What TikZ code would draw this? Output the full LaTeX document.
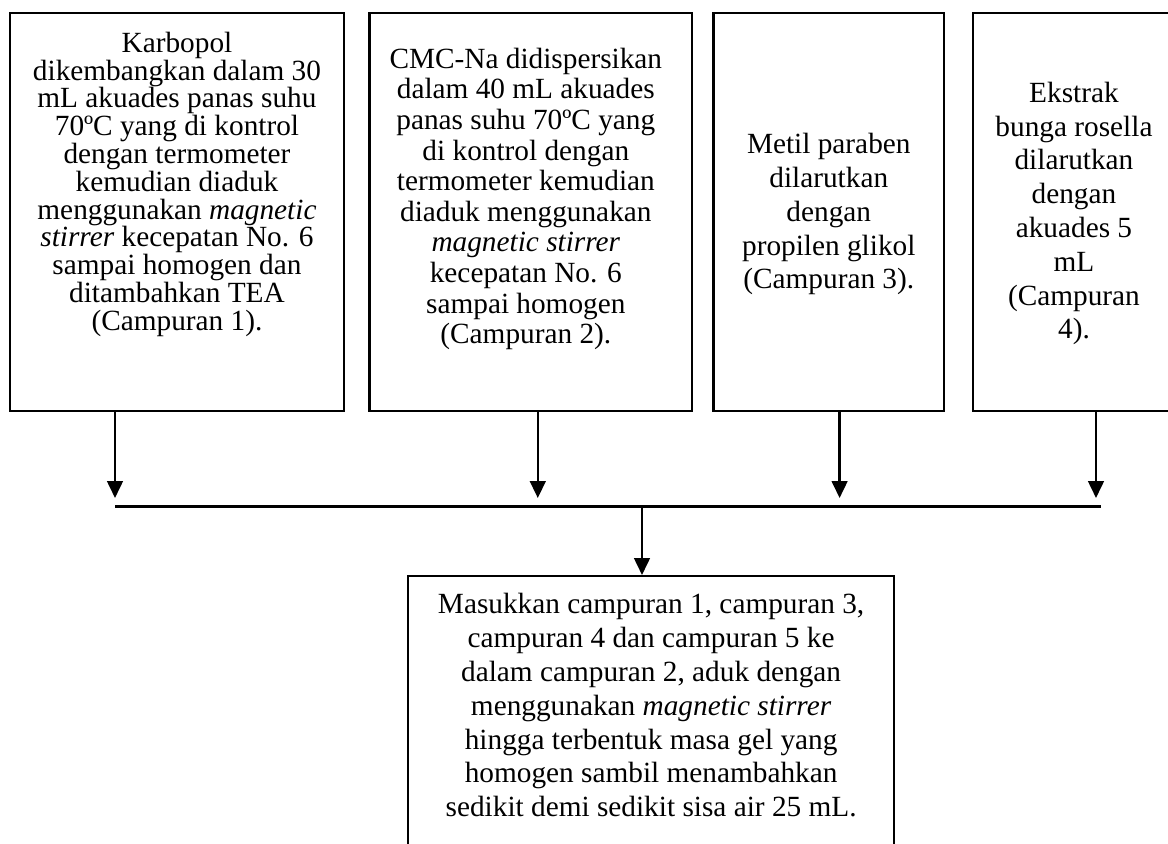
\documentclass[tikz,border=0pt]{standalone}
\usepackage{fontspec}
\setmainfont{Liberation Serif}
\usetikzlibrary{arrows.meta, calc}
\tikzset{
  box/.style={
    rectangle, draw, line width=1.6pt, anchor=north west,
    inner sep=0pt, minimum height=9.95cm
  },
  txt/.style={align=center, inner sep=0pt, anchor=north, text=black},
  tight/.style={font=\fontsize{20.84}{19.77}\selectfont},
  mid/.style={font=\fontsize{20.84}{21.77}\selectfont},
  loose/.style={font=\fontsize{20.84}{24.04}\selectfont},
  arr/.style={-{Triangle[length=0.42cm, width=0.39cm]}, line width=1.6pt},
  bar/.style={line width=1.6pt},
}

\begin{document}
\begin{tikzpicture}

  \useasboundingbox (0,0) rectangle (29.2,-21.1);
  \clip (0,0) rectangle (29.2,-21.1);

  % the four mixtures
  \node[box, minimum width=8.343cm] (karbopol) at (0.225,-0.3) {};
  \node[box, minimum width=8.06cm] (cmc) at (9.2075,-0.3) {};
  \node[box, minimum width=5.7675cm] (metil) at (17.8075,-0.3) {};
  \node[box, minimum width=5.0575cm] (ekstrak) at (24.2925,-0.3) {};

  % final step, runs off the page
  \node[box, minimum width=12.15cm, minimum height=7.5cm] (mix) at (10.175,-14.375) {};

  \node[txt, tight] (karbopoltxt) at ($(karbopol.north)+(0,-0.4925)$)
    {Karbopol\\dikembangkan dalam 30\\mL akuades panas suhu\\70ºC yang di kontrol\\
     dengan termometer\\kemudian diaduk\\menggunakan \textit{magnetic}\\
     \textit{stirrer} kecepatan No. 6\\sampai homogen dan\\ditambahkan TEA\\(Campuran 1).};
  \node[txt, mid] (cmctxt) at ($(cmc.north)+(-0.12,-0.8925)$)
    {CMC-Na didispersikan\\dalam 40 mL akuades\\panas suhu 70ºC yang\\di kontrol dengan\\
     termometer kemudian\\diaduk menggunakan\\\textit{magnetic stirrer}\\
     kecepatan No. 6\\sampai homogen\\(Campuran 2).};
  \node[txt, loose] (metiltxt) at ($(metil.north)+(0,-3.025)$)
    {Metil paraben\\dilarutkan\\dengan\\propilen glikol\\(Campuran 3).};
  \node[txt, loose] (ekstraktxt) at ($(ekstrak.north)+(0,-1.7425)$)
    {Ekstrak\\bunga rosella\\dilarutkan\\dengan\\akuades 5\\mL\\(Campuran\\4).};
  \node[txt, loose] (mixtxt) at ($(mix.north)+(0,-0.4575)$)
    {Masukkan campuran 1, campuran 3,\\campuran 4 dan campuran 5 ke\\
     dalam campuran 2, aduk dengan\\menggunakan \textit{magnetic stirrer}\\
     hingga terbentuk masa gel yang\\homogen sambil menambahkan\\
     sedikit demi sedikit sisa air 25 mL.};

  \coordinate (barw) at (2.875,-12.665);
  \coordinate (bare) at (27.52,-12.665);
  \coordinate (in1) at (2.875,-12.45);
  \coordinate (in2) at (13.445,-12.45);
  \coordinate (in3) at (20.99,-12.45);
  \coordinate (in4) at (27.4,-12.45);
  \coordinate (out) at (16.05,-12.665);

  \draw[arr] (karbopol.south -| in1) -- (in1);
  \draw[arr] (cmc.south -| in2) -- (in2);
  \draw[arr] (metil.south -| in3) -- (in3);
  \draw[arr] (ekstrak.south -| in4) -- (in4);

  \draw[bar] (barw) -- (bare);
  \draw[arr] (out) -- (out |- mix.north);

\end{tikzpicture}
\end{document}
